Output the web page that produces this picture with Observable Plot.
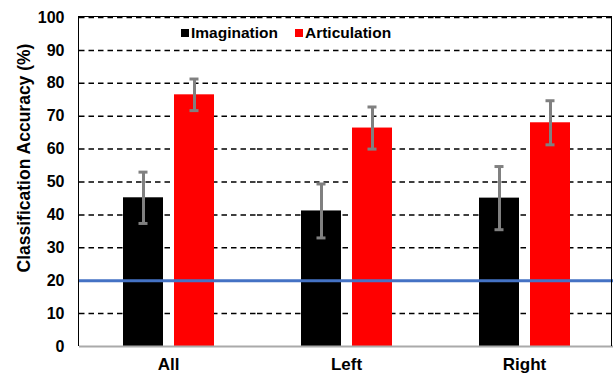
<!DOCTYPE html>
<html>
<head>
<meta charset="utf-8">
<script src="https://cdn.jsdelivr.net/npm/d3@7"></script>
<script src="https://cdn.jsdelivr.net/npm/@observablehq/plot@0.6"></script>
<style>
  html, body { margin: 0; padding: 0; background: #fff; }
  #wrap { position: relative; width: 616px; height: 373px; font-family: "Liberation Sans", Arial, sans-serif; font-weight: bold; }
  #legend { position: absolute; left: 181px; top: 24px; display: flex; align-items: center; font-size: 15.5px; color: #000; }
  #legend .sw { display: inline-block; width: 8px; height: 8px; margin-right: 2px; }
  #legend .item { display: flex; align-items: center; margin-right: 17px; }
  #ytitle { position: absolute; left: 24px; top: 158px; transform: translate(-50%, -50%) rotate(-90deg); white-space: nowrap; font-size: 17.5px; }
  #border { position: absolute; left: 78px; top: 16px; width: 534px; height: 330px; border: 1px solid #000; border-bottom: none; pointer-events: none; box-sizing: border-box; }
</style>
</head>
<body>
<div id="wrap"></div>
<script>
const categories = ["All", "Left", "Right"];
const series = ["Imagination", "Articulation"];
const imagination = [45.2, 41.2, 45.1];
const imaginationErr = [7.8, 8.2, 9.6];
const articulation = [76.5, 66.4, 68.0];
const articulationErr = [4.8, 6.4, 6.7];
const yTicks = [0, 10, 20, 30, 40, 50, 60, 70, 80, 90, 100];
const chanceLevel = [20];
const colors = ["#000000", "#ff0000"];
const yLabel = "Classification Accuracy (%)";

const data = [];
categories.forEach((c, i) => {
  data.push({cat: c, series: series[0], value: imagination[i], err: imaginationErr[i]});
  data.push({cat: c, series: series[1], value: articulation[i], err: articulationErr[i]});
});

const font = '"Liberation Sans", Arial, sans-serif';

const plot = Plot.plot({
  width: 616,
  height: 373,
  marginLeft: 79,
  marginRight: 3,
  marginTop: 17,
  marginBottom: 27,
  style: {fontFamily: font, fontWeight: "bold", background: "#fff"},
  fx: {domain: categories, padding: 0, label: null, axis: null},
  x: {domain: series, paddingInner: 0.216, paddingOuter: 0.85, axis: null},
  y: {domain: [0, 100], label: null, axis: null},
  color: {domain: series, range: colors},
  marks: [
    Plot.ruleY(yTicks.filter(d => d > 0), {stroke: "#000", strokeWidth: 1.5, strokeDasharray: "5.5,4"}),
    Plot.barY(data, {fx: "cat", x: "series", y: "value", fill: "series"}),
    Plot.ruleY([0], {stroke: "#aaaaaa", strokeWidth: 2}),
    Plot.ruleY(chanceLevel, {stroke: "#4472C4", strokeWidth: 3}),
    Plot.ruleX(data, {fx: "cat", x: "series", y1: d => d.value - d.err, y2: d => d.value + d.err, stroke: "#808080", strokeWidth: 3}),
    Plot.tickY(data, {fx: "cat", x: "series", y: d => d.value - d.err, stroke: "#808080", strokeWidth: 3, insetLeft: 15.5, insetRight: 15.5}),
    Plot.tickY(data, {fx: "cat", x: "series", y: d => d.value + d.err, stroke: "#808080", strokeWidth: 3, insetLeft: 15.5, insetRight: 15.5}),
    Plot.axisY({ticks: yTicks, tickSize: 0, tickPadding: 15, fontSize: 16, fill: "#000", label: null}),
    Plot.axisFx({anchor: "bottom", tickSize: 0, tickPadding: 11, fontSize: 17, fill: "#000", label: null})
  ]
});

const wrap = document.getElementById("wrap");
wrap.appendChild(plot);

const border = document.createElement("div");
border.id = "border";
wrap.appendChild(border);

const legend = document.createElement("div");
legend.id = "legend";
series.forEach((s, i) => {
  const item = document.createElement("span");
  item.className = "item";
  const sw = document.createElement("span");
  sw.className = "sw";
  sw.style.background = colors[i];
  item.appendChild(sw);
  item.appendChild(document.createTextNode(s));
  legend.appendChild(item);
});
wrap.appendChild(legend);

const yt = document.createElement("div");
yt.id = "ytitle";
yt.textContent = yLabel;
wrap.appendChild(yt);
</script>
</body>
</html>
